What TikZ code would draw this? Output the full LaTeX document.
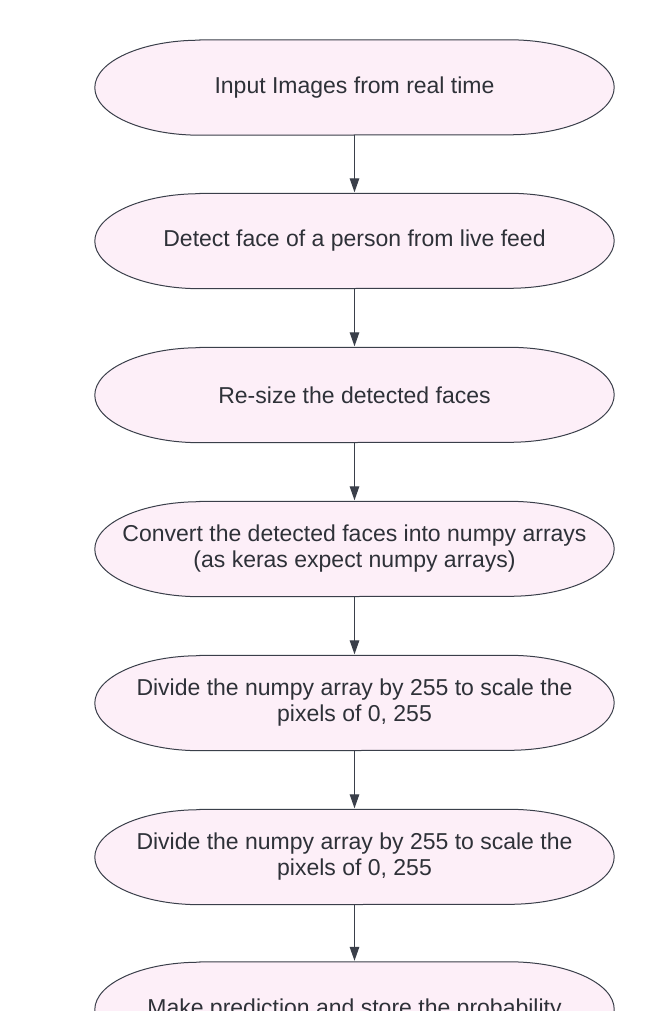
\documentclass[tikz,border=0pt]{standalone}
\usepackage{fontspec}
\setmainfont{Liberation Sans}
\usetikzlibrary{backgrounds,arrows.meta}
\definecolor{capfill}{HTML}{FDEFF8}
\definecolor{capline}{HTML}{3A3F4A}
\definecolor{captext}{HTML}{2E3138}
\tikzset{
  stepnode/.style={minimum width=519pt,minimum height=95pt,inner sep=0pt,
    align=center,text=captext,font=\fontsize{23}{26}\selectfont},
  capshape/.style={fill=capfill,draw=capline,line width=1pt},
  flow/.style={draw=capline,line width=1.3pt,-{Triangle[length=14pt,width=9.5pt]},shorten >=1pt}
}
\newcommand\capsule[1]{%
  \path[capshape] ([xshift=105pt]#1.north west) -- ([xshift=-105pt]#1.north east)
    arc[start angle=90,end angle=-90,x radius=105pt,y radius=47.5pt]
    -- ([xshift=105pt]#1.south west)
    arc[start angle=270,end angle=90,x radius=105pt,y radius=47.5pt] -- cycle;}
\begin{document}
\begin{tikzpicture}[x=1pt,y=-1pt]
\useasboundingbox (0,0) rectangle (658,1011);
\node[stepnode] (n1) at (354.5,87.5) {Input Images from real time};
\node[stepnode] (n2) at (354.5,241) {Detect face of a person from live feed};
\node[stepnode] (n3) at (354.5,395) {Re-size the detected faces};
\node[stepnode] (n4) at (354.5,549) {Convert the detected faces into numpy arrays\\(as keras expect numpy arrays)};
\node[stepnode] (n5) at (354.5,703) {Divide the numpy array by 255 to scale the\\pixels of 0, 255};
\node[stepnode] (n6) at (354.5,857) {Divide the numpy array by 255 to scale the\\pixels of 0, 255};
\node[stepnode] (n7) at (354.5,1009.5) {Make prediction and store the probability};
\begin{scope}[on background layer]
\capsule{n1}\capsule{n2}\capsule{n3}\capsule{n4}\capsule{n5}\capsule{n6}\capsule{n7}
\end{scope}
\draw[flow] (n1.south) -- (n2.north);
\draw[flow] (n2.south) -- (n3.north);
\draw[flow] (n3.south) -- (n4.north);
\draw[flow] (n4.south) -- (n5.north);
\draw[flow] (n5.south) -- (n6.north);
\draw[flow] (n6.south) -- (n7.north);
\end{tikzpicture}
\end{document}
